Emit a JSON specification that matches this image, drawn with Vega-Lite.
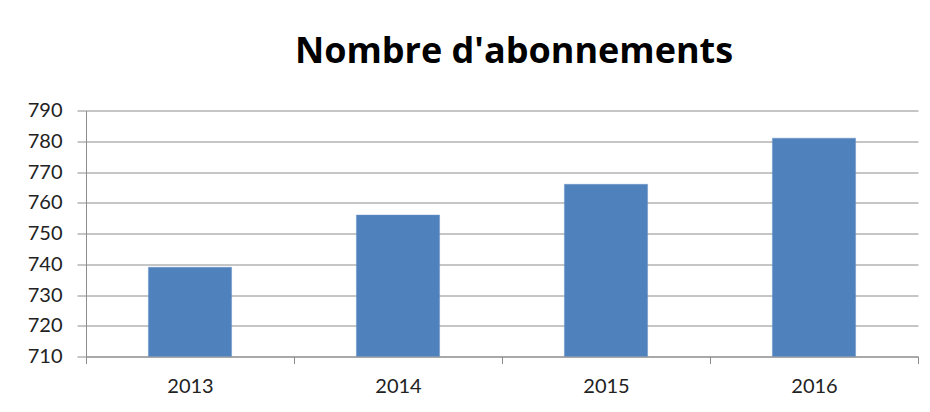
{
  "$schema": "https://vega.github.io/schema/vega-lite/v6.json",
  "width": 832,
  "height": 246,
  "autosize": "none",
  "padding": {"left": 86, "top": 110.5, "right": 12, "bottom": 55.5},
  "background": "white",
  "data": {
    "values": [
      {"annee": "2013", "abonnements": 739},
      {"annee": "2014", "abonnements": 756},
      {"annee": "2015", "abonnements": 766},
      {"annee": "2016", "abonnements": 781}
    ]
  },
  "title": {
    "text": "Nombre d'abonnements",
    "font": "Open Sans",
    "fontSize": 36,
    "fontWeight": "bold",
    "color": "#000000",
    "anchor": "middle",
    "dx": 12,
    "baseline": "alphabetic",
    "offset": 2
  },
  "mark": {"type": "bar", "color": "#4F81BD", "stroke": "#6A94C8", "strokeWidth": 0.5, "clip": true, "width": {"band": 0.4}},
  "encoding": {
    "x": {
      "field": "annee",
      "type": "ordinal",
      "title": null,
      "scale": {"paddingInner": 0, "paddingOuter": 0},
      "axis": {
        "labelAngle": 0,
        "labelFont": "Lato",
        "labelFontSize": 20,
        "labelColor": "#222222",
        "labelPadding": 13,
        "tickBand": "extent",
        "tickSize": 7,
        "tickColor": "#8c8c8c",
        "domainColor": "#8c8c8c",
        "grid": false
      }
    },
    "y": {
      "field": "abonnements",
      "type": "quantitative",
      "title": null,
      "scale": {"domain": [710, 790], "zero": false, "nice": false},
      "axis": {
        "values": [710, 720, 730, 740, 750, 760, 770, 780, 790],
        "labelFont": "Lato",
        "labelFontSize": 20,
        "labelColor": "#222222",
        "labelPadding": 15,
        "tickSize": 9,
        "tickColor": "#8c8c8c",
        "domainColor": "#8c8c8c",
        "grid": true,
        "gridColor": "#8c8c8c",
        "gridOpacity": 1
      }
    }
  },
  "config": {
    "view": {"stroke": null}
  }
}
